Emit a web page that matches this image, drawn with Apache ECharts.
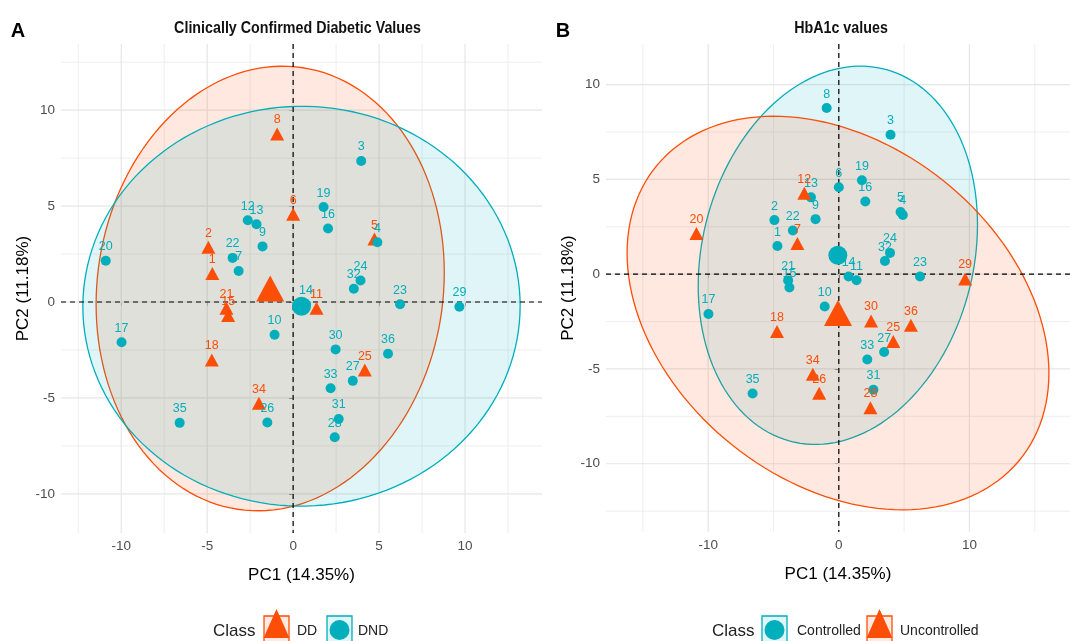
<!DOCTYPE html>
<html><head><meta charset="utf-8">
<script src="https://cdn.jsdelivr.net/npm/echarts@6/dist/echarts.min.js"></script>
<style>html,body{margin:0;padding:0;background:#fff}#c{width:1070px;height:641px}</style>
</head><body><div id="c"></div>
<script>
// ---------------- data (PCA scores, shared by both panels) ----------------
const ids = [1,2,3,4,5,6,7,8,9,10,11,12,13,14,15,16,17,18,19,20,21,22,23,24,25,26,27,28,29,30,31,32,33,34,35,36];
const pc1 = [-4.70,-4.93,3.96,4.90,4.73,0.00,-3.17,-0.93,-1.78,-1.08,1.36,-2.64,-2.13,0.75,-3.78,2.03,-9.98,-4.73,1.77,-10.90,-3.88,-3.52,6.22,3.92,4.17,-1.50,3.47,2.42,9.67,2.47,2.65,3.53,2.18,-1.99,-6.60,5.52];
const pc2 = [1.48,2.85,7.35,3.12,3.28,4.58,1.62,8.76,2.90,-1.71,-0.32,4.26,4.05,-0.12,-0.70,3.83,-2.10,-3.02,4.95,2.15,-0.33,2.30,-0.12,1.12,-3.55,-6.28,-4.11,-7.05,-0.25,-2.47,-6.10,0.69,-4.50,-5.28,-6.30,-2.70];
const classA = ['DD','DD','DND','DND','DD','DD','DND','DD','DND','DND','DD','DND','DND','DND','DD','DND','DND','DD','DND','DND','DD','DND','DND','DND','DD','DND','DND','DND','DND','DND','DND','DND','DND','DD','DND','DND'];
const classB = ['Controlled','Controlled','Controlled','Controlled','Controlled','Controlled','Uncontrolled','Controlled','Controlled','Controlled','Controlled','Uncontrolled','Controlled','Controlled','Controlled','Controlled','Controlled','Uncontrolled','Controlled','Uncontrolled','Controlled','Controlled','Controlled','Controlled','Uncontrolled','Uncontrolled','Controlled','Uncontrolled','Uncontrolled','Uncontrolled','Controlled','Controlled','Controlled','Uncontrolled','Controlled','Uncontrolled'];
const groupsA = ['DD','DND'];
const groupsB = ['Controlled','Uncontrolled'];
const titles = ['Clinically Confirmed Diabetic Values','HbA1c values'];
const tags = ['A','B'];
const xTitle = 'PC1 (14.35%)';
const yTitle = 'PC2 (11.18%)';
const xMajorA = [-10,-5,0,5,10];
const xMinorA = [-12.5,-7.5,-2.5,2.5,7.5,12.5];
const yMajorA = [-10,-5,0,5,10];
const yMinorA = [-12.5,-7.5,-2.5,2.5,7.5,12.5];
const xMajorB = [-10,0,10];
const xMinorB = [-15,-5,5,15];
const yMajorB = [-10,-5,0,5,10];
const yMinorB = [-12.5,-7.5,-2.5,2.5,7.5,12.5];
const ellipseLevel = 0.95;

// ---------------- styling ----------------
const FONT = '"Liberation Sans", Arial, sans-serif';
const COLOR = {DD:'#FC4E07', DND:'#00AFBB', Controlled:'#00AFBB', Uncontrolled:'#FC4E07'};
const FILL  = {DD:'rgba(252,78,7,0.13)', DND:'rgba(0,175,187,0.12)', Controlled:'rgba(0,175,187,0.12)', Uncontrolled:'rgba(252,78,7,0.13)'};
const SHAPE = {DD:'triangle', DND:'circle', Controlled:'circle', Uncontrolled:'triangle'};
const SIZE  = {circle:10, triangle:[14,13]};
const MEANSIZE = {circle:19, triangle:[28,26]};
const GRIDS = [
  {left:61, top:44, width:481, height:489},
  {left:606, top:44, width:474, height:488}
];

// ---------------- statistics (ggplot stat_ellipse, type norm) ----------------
function groupStats(cls, g){
  const idx = []; cls.forEach((c,i)=>{ if(c===g) idx.push(i); });
  const n = idx.length;
  const mx = idx.reduce((s,i)=>s+pc1[i],0)/n, my = idx.reduce((s,i)=>s+pc2[i],0)/n;
  let sxx=0, syy=0, sxy=0;
  idx.forEach(i=>{ const dx=pc1[i]-mx, dy=pc2[i]-my; sxx+=dx*dx; syy+=dy*dy; sxy+=dx*dy; });
  sxx/=(n-1); syy/=(n-1); sxy/=(n-1);
  return {idx, n, mx, my, sxx, syy, sxy};
}
function ellipseRing(st){
  const d = st.n - 1;
  const qf = d/2*(Math.pow(1-ellipseLevel, -2/d) - 1); // F(2,d) quantile
  const r = Math.sqrt(2*qf);
  const a = Math.sqrt(st.sxx), b = st.sxy/a, c = Math.sqrt(Math.max(st.syy - b*b, 0));
  const pts = [];
  for(let k=0;k<=150;k++){
    const t = 2*Math.PI*k/150;
    pts.push([st.mx + r*a*Math.cos(t), st.my + r*(b*Math.cos(t) + c*Math.sin(t))]);
  }
  return pts;
}

const panels = [
  {cls:classA, groups:groupsA, xMajor:xMajorA, xMinor:xMinorA, yMajor:yMajorA, yMinor:yMinorA},
  {cls:classB, groups:groupsB, xMajor:xMajorB, xMinor:xMinorB, yMajor:yMajorB, yMinor:yMinorB}
];
panels.forEach(p=>{
  p.stats = p.groups.map(g=>groupStats(p.cls,g));
  p.rings = p.stats.map(ellipseRing);
  const all = [].concat(...p.rings, pc1.map((x,i)=>[x,pc2[i]]));
  const xs = all.map(v=>v[0]), ys = all.map(v=>v[1]);
  let x0=Math.min(...xs), x1=Math.max(...xs), y0=Math.min(...ys), y1=Math.max(...ys);
  const ex=(x1-x0)*0.05, ey=(y1-y0)*0.05;
  p.xr=[x0-ex,x1+ex]; p.yr=[y0-ey,y1+ey];
});

// ---------------- options ----------------
const xAxes=[], yAxes=[], series=[], graphic=[];
panels.forEach((p,pi)=>{
  xAxes.push({gridIndex:pi, type:'value', min:p.xr[0], max:p.xr[1],
    axisLine:{show:false}, splitLine:{show:false},
    axisTick:{show:true, length:4, customValues:p.xMajor, lineStyle:{color:'#333', width:1}},
    axisLabel:{customValues:p.xMajor, margin:6, color:'#4d4d4d', fontSize:13.5, fontFamily:FONT},
    name:xTitle, nameLocation:'middle', nameGap:34, nameTextStyle:{fontSize:17, color:'#000', fontFamily:FONT}});
  yAxes.push({gridIndex:pi, type:'value', min:p.yr[0], max:p.yr[1],
    axisLine:{show:false}, splitLine:{show:false},
    axisTick:{show:true, length:4, customValues:p.yMajor, lineStyle:{color:'#333', width:1}},
    axisLabel:{customValues:p.yMajor, margin:6, color:'#4d4d4d', fontSize:13.5, fontFamily:FONT},
    name:yTitle, nameLocation:'middle', nameGap:29, nameRotate:90, nameTextStyle:{fontSize:17, color:'#000', fontFamily:FONT}});

  // background grid lines
  series.push({type:'custom', xAxisIndex:pi, yAxisIndex:pi, z:1, silent:true, data:[[0,0]],
    renderItem:(params, api)=>{
      const cs = params.coordSys, ch=[];
      const vline=(v,w,col)=>{ if(v<p.xr[0]||v>p.xr[1]) return; const x=api.coord([v,0])[0];
        ch.push({type:'line', shape:{x1:x,y1:cs.y,x2:x,y2:cs.y+cs.height}, style:{stroke:col,lineWidth:w}}); };
      const hline=(v,w,col)=>{ if(v<p.yr[0]||v>p.yr[1]) return; const y=api.coord([0,v])[1];
        ch.push({type:'line', shape:{x1:cs.x,y1:y,x2:cs.x+cs.width,y2:y}, style:{stroke:col,lineWidth:w}}); };
      p.xMinor.forEach(v=>vline(v,0.9,'#ececec')); p.yMinor.forEach(v=>hline(v,0.9,'#ececec'));
      p.xMajor.forEach(v=>vline(v,1.2,'#e6e6e6')); p.yMajor.forEach(v=>hline(v,1.2,'#e6e6e6'));
      return {type:'group', children:ch};
    }});
  // ellipses
  p.groups.forEach((g,gi)=>{
    const ring = p.rings[gi];
    series.push({type:'custom', xAxisIndex:pi, yAxisIndex:pi, z:2, silent:true, data:[[p.stats[gi].mx,p.stats[gi].my]],
      renderItem:(params, api)=>({type:'polygon', shape:{points:ring.map(v=>api.coord(v))},
        style:{fill:FILL[g], stroke:COLOR[g], lineWidth:1.3}})});
  });
  // zero dashed lines
  series.push({type:'custom', xAxisIndex:pi, yAxisIndex:pi, z:3, silent:true, data:[[0,0]],
    renderItem:(params, api)=>{
      const cs=params.coordSys, o=api.coord([0,0]);
      const st={stroke:'#000', lineWidth:1.2, lineDash:[5,4]};
      return {type:'group', children:[
        {type:'line', shape:{x1:o[0],y1:cs.y,x2:o[0],y2:cs.y+cs.height}, style:st},
        {type:'line', shape:{x1:cs.x,y1:o[1],x2:cs.x+cs.width,y2:o[1]}, style:st}]};
    }});
  // points + labels
  p.groups.forEach((g,gi)=>{
    const st = p.stats[gi];
    series.push({type:'scatter', name:g, xAxisIndex:pi, yAxisIndex:pi, z:4, silent:true,
      symbol:SHAPE[g], symbolSize:SIZE[SHAPE[g]],
      itemStyle:{color:COLOR[g], opacity:1},
      label:{show:true, position:'inside', offset:[0,-14], formatter:q=>q.value[2], color:COLOR[g], fontSize:12.5, fontFamily:FONT},
      data: st.idx.map(i=>[pc1[i], pc2[i], ids[i]])});
    series.push({type:'scatter', xAxisIndex:pi, yAxisIndex:pi, z:5, silent:true,
      symbol:SHAPE[g], symbolSize:MEANSIZE[SHAPE[g]], itemStyle:{color:COLOR[g], opacity:1},
      data:[[st.mx, st.my]]});
  });

  // titles and tags (condensed look of the original)
  const gr = GRIDS[pi];
  graphic.push({type:'text', x:gr.left+gr.width/2 - (pi===0?4:2), y:28, scaleX:0.84,
    style:{text:titles[pi], x:0, y:0, font:'bold 17px '+FONT, fill:'#111', align:'center', verticalAlign:'middle'}});
  graphic.push({type:'text', x:[18,563][pi], y:31, style:{text:tags[pi], font:'bold 20px '+FONT, fill:'#000', align:'center', verticalAlign:'middle'}});
});

// legends
function legendKey(x, g){
  const els = [{type:'rect', shape:{x:x, y:616, width:25, height:30}, style:{fill:FILL[g], stroke:COLOR[g], lineWidth:1.3}}];
  if(SHAPE[g]==='triangle') els.push({type:'polygon', shape:{points:[[x+12.5,609],[x+25.5,638],[x-0.5,638]]}, style:{fill:COLOR[g]}});
  else els.push({type:'circle', shape:{cx:x+12.5, cy:630, r:10}, style:{fill:COLOR[g]}});
  return els;
}
function legendText(x, t, size){ return {type:'text', x:x, y:631, style:{text:t, font:size+'px '+FONT, fill:'#222', align:'left', verticalAlign:'middle'}}; }
graphic.push(legendText(213,'Class',17), ...legendKey(264,'DD'), legendText(297,'DD',14), ...legendKey(327,'DND'), legendText(358,'DND',14));
graphic.push(legendText(712,'Class',17), ...legendKey(762,'Controlled'), legendText(797,'Controlled',14), ...legendKey(867,'Uncontrolled'), legendText(900,'Uncontrolled',14));

const chart = echarts.init(document.getElementById('c'), null, {renderer:'canvas'});
chart.setOption({
  animation:false, backgroundColor:'#fff',
  textStyle:{fontFamily:FONT},
  grid: GRIDS,
  xAxis:xAxes, yAxis:yAxes, series:series, graphic:graphic
});
</script></body></html>
